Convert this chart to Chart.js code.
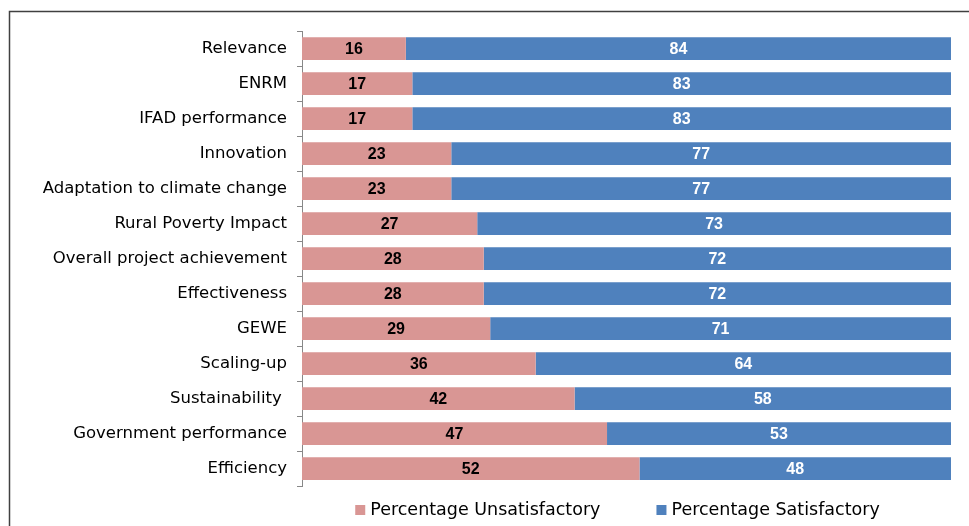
<!DOCTYPE html>
<html>
<head>
<meta charset="utf-8">
<script src="https://cdn.jsdelivr.net/npm/chart.js@4/dist/chart.umd.min.js"></script>
<style>
  html, body { margin: 0; padding: 0; background: #fff; }
  #wrap { position: relative; width: 969px; height: 526px; }
</style>
</head>
<body>
<div id="wrap"><canvas id="chart" width="969" height="526"></canvas></div>
<script>
// Evaluation criteria, top to bottom
const criteria = [
    'Relevance', 'ENRM', 'IFAD performance', 'Innovation',
    'Adaptation to climate change', 'Rural Poverty Impact',
    'Overall project achievement', 'Effectiveness', 'GEWE',
    'Scaling-up', 'Sustainability ', 'Government performance', 'Efficiency'
];
const unsatisfactory = [16, 17, 17, 23, 23, 27, 28, 28, 29, 36, 42, 47, 52];
const satisfactory = [84, 83, 83, 77, 77, 73, 72, 72, 71, 64, 58, 53, 48];

const PINK = '#D99694';
const BLUE = '#4F81BD';
const LABEL_FONT = '"DejaVu Sans", Verdana, sans-serif';

// Frame line around the chart (only top and left visible in the crop)
const framePlugin = {
    id: 'frame',
    beforeDraw(chart) {
        const ctx = chart.ctx;
        ctx.save();
        ctx.fillStyle = '#fff';
        ctx.fillRect(0, 0, chart.width, chart.height);
        ctx.strokeStyle = '#404040';
        ctx.lineWidth = 1.5;
        ctx.beginPath();
        ctx.moveTo(9.5, chart.height);
        ctx.lineTo(9.5, 11.5);
        ctx.lineTo(chart.width, 11.5);
        ctx.stroke();
        ctx.restore();
    }
};

// Value labels in the middle of each segment
const valueLabels = {
    id: 'valueLabels',
    afterDatasetsDraw(chart) {
        const ctx = chart.ctx;
        ctx.save();
        ctx.font = 'bold 16px "Liberation Sans", Arial, sans-serif';
        ctx.textAlign = 'center';
        ctx.textBaseline = 'middle';
        chart.data.datasets.forEach((ds, i) => {
            ctx.fillStyle = i === 0 ? '#000' : '#fff';
            chart.getDatasetMeta(i).data.forEach((bar, j) => {
                const cx = (bar.x + bar.base) / 2;
                ctx.fillText(ds.data[j], cx, bar.y + 1);
            });
        });
        ctx.restore();
    }
};

// Legend drawn by hand so the item gap and its height can differ
const bottomLegend = {
    id: 'bottomLegend',
    afterDraw(chart) {
        const ctx = chart.ctx;
        const box = 10, gapText = 5, gapItem = 56;
        ctx.save();
        ctx.font = '17.5px ' + LABEL_FONT;
        ctx.textBaseline = 'middle';
        const items = chart.data.datasets.map(ds => ({
            text: ds.label, color: ds.backgroundColor, w: ctx.measureText(ds.label).width
        }));
        let total = items.reduce((s, it) => s + box + gapText + it.w, 0) + gapItem * (items.length - 1);
        const area = chart.chartArea;
        let x = (area.left + area.right) / 2 - 9 - total / 2;
        const y = 510;
        items.forEach(it => {
            ctx.fillStyle = it.color;
            ctx.fillRect(x, y - 5, box, box);
            ctx.fillStyle = '#000';
            ctx.fillText(it.text, x + box + gapText, y);
            x += box + gapText + it.w + gapItem;
        });
        ctx.restore();
    }
};

new Chart(document.getElementById('chart'), {
    type: 'bar',
    data: {
        labels: criteria,
        datasets: [
            {
                label: 'Percentage Unsatisfactory',
                data: unsatisfactory,
                backgroundColor: PINK,
                barPercentage: 0.65,
                categoryPercentage: 1
            },
            {
                label: 'Percentage Satisfactory',
                data: satisfactory,
                backgroundColor: BLUE,
                barPercentage: 0.65,
                categoryPercentage: 1
            }
        ]
    },
    options: {
        indexAxis: 'y',
        responsive: false,
        animation: false,
        layout: { padding: { top: 31, right: 18, left: 10, bottom: 40 } },
        scales: {
            x: { stacked: true, display: false, min: 0, max: 100 },
            y: {
                stacked: true,
                afterFit(scale) { scale.width = 292; },
                border: { color: '#888', width: 1 },
                grid: { drawOnChartArea: false, tickLength: 5, color: '#888', offset: true },
                ticks: {
                    color: '#000',
                    padding: 10,
                    font: { family: LABEL_FONT, size: 16.5 }
                }
            }
        },
        plugins: {
            legend: { display: false },
            tooltip: { enabled: false }
        }
    },
    plugins: [framePlugin, valueLabels, bottomLegend]
});
</script>
</body>
</html>
